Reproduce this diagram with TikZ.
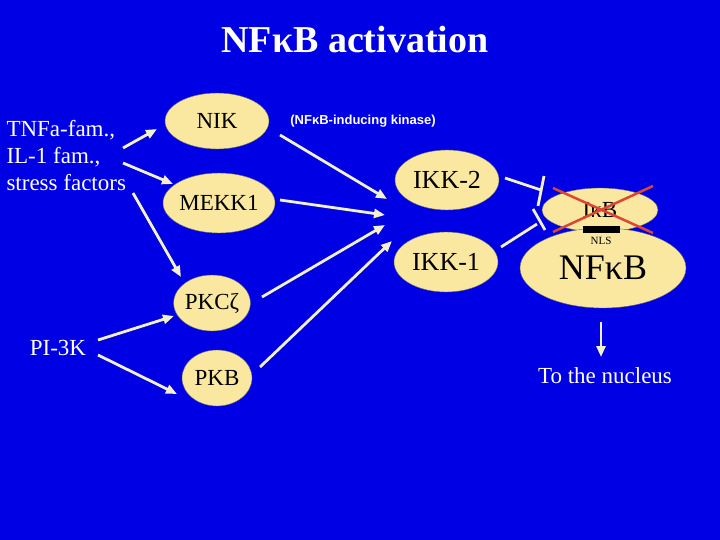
\documentclass[tikz,border=0pt]{standalone}
\usepackage{fontspec}
\setmainfont{Liberation Serif}
\newfontfamily\sansf{Liberation Sans}
\usetikzlibrary{arrows.meta,shapes.geometric}
\definecolor{bg}{RGB}{0,0,228}
\definecolor{yel}{RGB}{250,232,160}
\definecolor{arr}{RGB}{242,240,205}
\definecolor{xred}{RGB}{220,70,50}
\begin{document}
\begin{tikzpicture}[x=1pt,y=-1pt,
  ell/.style={draw=black!60,line width=0.4pt,fill=yel,ellipse,inner sep=0pt,font=\fontsize{23}{23}\selectfont},
  ar/.style={draw=arr,line width=2.8pt,-{Triangle[length=11pt,width=9pt]}},
  inh/.style={draw=arr,line width=2.8pt},
  txt/.style={text=white,font=\fontsize{23}{27}\selectfont}]
\path[fill=bg] (0,0) rectangle (720,540);
\useasboundingbox (0,0) rectangle (720,540);
\node[text=white,font=\bfseries\fontsize{38}{38}\selectfont] (title) at (355,40) {NFκB activation};
\node[ell,minimum width=104pt,minimum height=56pt] (nik) at (217,121) {NIK};
\node[ell,minimum width=104pt,minimum height=60pt] (mekk) at (219,203) {MEKK1};
\node[ell,minimum width=70pt,minimum height=56pt] (pkc) at (212,303) {PKCζ};
\node[ell,minimum width=70pt,minimum height=56pt] (pkb) at (217,378) {PKB};
\node[ell,minimum width=104pt,minimum height=60pt,font=\fontsize{26}{26}\selectfont] (ikk2) at (447,180) {IKK-2};
\node[ell,minimum width=104pt,minimum height=60pt,font=\fontsize{26}{26}\selectfont] (ikk1) at (446,262) {IKK-1};
\node[ell,minimum width=116pt,minimum height=44pt] (ikb) at (600,210) {IκB};
\node[ell,minimum width=166pt,minimum height=80pt,font=\fontsize{36}{36}\selectfont] (nfkb) at (603,268) {NFκB};
\fill[black] (583,226) rectangle (620,233);
\node[font=\fontsize{11}{11}\selectfont] (nls) at (601,241) {NLS};
\draw[xred,line width=2.5pt] (553,188) -- (653,233);
\draw[xred,line width=2.5pt] (553,232) -- (653,186);
\node[text=white,font=\sansf\bfseries\fontsize{13}{13}\selectfont] (nikl) at (363,121) {(NFκB-inducing kinase)};
\node[txt,align=left,anchor=north west] (tnf) at (3,117) {TNFa-fam.,\\IL-1 fam.,\\stress factors};
\node[txt] (pi3k) at (58,348) {PI-3K};
\node[txt] (nuc) at (605,376) {To the nucleus};
\coordinate (t1) at (123,148); \coordinate (t2) at (123,163); \coordinate (t3) at (133,193);
\coordinate (p1) at (98,340); \coordinate (p2) at (98,355);
\draw[ar] (t1) -- (157,129);
\draw[ar] (t2) -- (173,184);
\draw[ar] (t3) -- (181,277);
\draw[ar] (p1) -- (174,316);
\draw[ar] (p2) -- (177,394);
\draw[ar] (280,135) -- (387,199);
\draw[ar] (280,200) -- (385,215);
\draw[ar] (262,297) -- (385,225);
\draw[ar] (260,367) -- (392,241);
\draw[inh] (505,178) -- (541,190);
\draw[inh] (544,176) -- (538,206);
\draw[inh] (501,247) -- (537,224);
\draw[inh] (533,209) -- (545,230);
\draw[ar] (601,322) -- (601,357);
\end{tikzpicture}
\end{document}
